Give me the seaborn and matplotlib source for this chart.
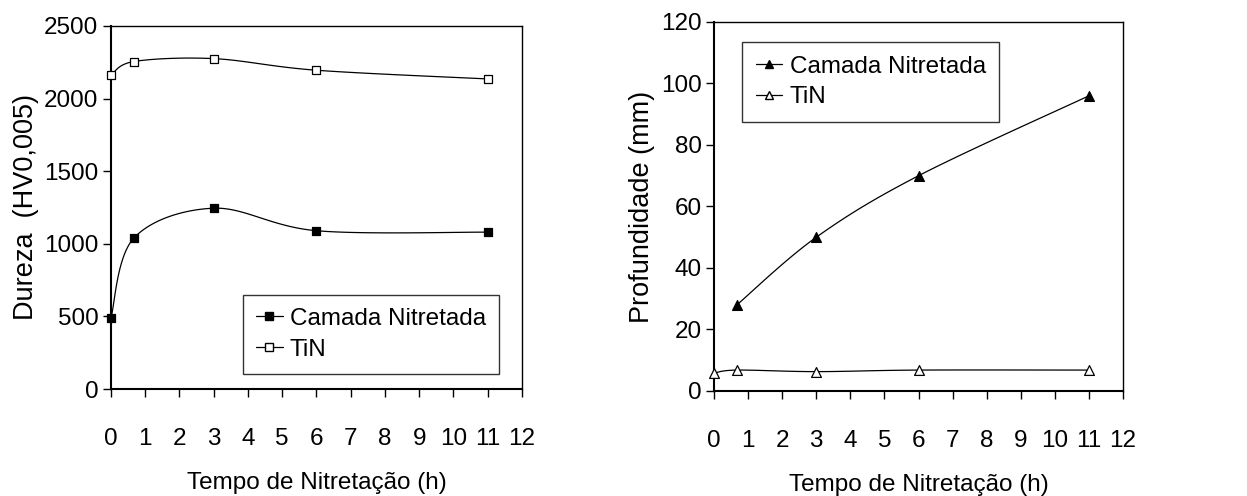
import numpy as np
import pandas as pd
import matplotlib
matplotlib.use("Agg")
import matplotlib.pyplot as plt
from matplotlib.lines import Line2D
import seaborn as sns

# ---- data ----
tempo_dur = [0, 0.67, 3, 6, 11]
dureza_camada = [490, 1040, 1245, 1090, 1080]
dureza_tin = [2160, 2255, 2275, 2195, 2135]

tempo_prof_camada = [0.67, 3, 6, 11]
prof_camada = [28, 50, 70, 96]
tempo_prof_tin = [0, 0.67, 3, 6, 11]
prof_tin = [5.8, 6.8, 6.3, 6.8, 6.8]

xticks = list(range(0, 13))
xlabel = "Tempo de Nitretação (h)"
ylabel_left = "Dureza  (HV0,005)"
ylabel_right = "Profundidade (mm)"
labels = ["Camada Nitretada", "TiN"]

sns.set_theme(style="white")
plt.rcParams["font.family"] = ["Liberation Sans", "DejaVu Sans"]
plt.rcParams["text.color"] = "black"
plt.rcParams["axes.labelcolor"] = "black"


def smooth(x, y, n=30):
    """Excel-like smoothed line (Catmull-Rom Bezier) through the points."""
    P = np.column_stack([x, y]).astype(float)
    pts = []
    m = len(P)
    for i in range(m - 1):
        p0 = P[max(i - 1, 0)]
        p1 = P[i]
        p2 = P[i + 1]
        p3 = P[min(i + 2, m - 1)]
        c1 = p1 + (p2 - p0) / 6.0
        c2 = p2 - (p3 - p1) / 6.0
        t = np.linspace(0, 1, n)[:, None]
        seg = ((1 - t) ** 3) * p1 + 3 * ((1 - t) ** 2) * t * c1 + 3 * (1 - t) * t ** 2 * c2 + t ** 3 * p2
        pts.append(seg if i == 0 else seg[1:])
    s = np.vstack(pts)
    return s[:, 0], s[:, 1]


fig = plt.figure(figsize=(12.47, 4.96), dpi=100)
ax1 = fig.add_axes([0.089, 0.2157, 0.3296, 0.732])
ax2 = fig.add_axes([0.5726, 0.2117, 0.328, 0.744])

FS = 17.5
FSY = 19.5


def style_axis(ax, ylim, yticks, ylabel):
    ax.set_xlim(0, 12)
    ax.set_ylim(*ylim)
    ax.set_xticks(xticks)
    ax.set_yticks(yticks)
    ax.tick_params(axis="x", direction="out", length=6, width=1, pad=22,
                   labelsize=FS, colors="black", bottom=True)
    ax.tick_params(axis="y", direction="out", length=6, width=1, pad=3,
                   labelsize=FS, colors="black", left=True)
    for sp in ax.spines.values():
        sp.set_visible(True)
        sp.set_color("black")
        sp.set_linewidth(1.0)
    ax.spines["left"].set_linewidth(1.5)
    ax.spines["bottom"].set_linewidth(1.5)
    ax.set_xlabel(xlabel, fontsize=FS, color="black", labelpad=16)
    ax.set_ylabel(ylabel, fontsize=FSY, color="black", labelpad=4)
    ax.grid(False)
    ax.set_facecolor("white")


def draw(ax, x, y, marker, fill, size):
    sx, sy = smooth(x, y)
    ax.plot(sx, sy, color="black", lw=0.9, zorder=2, clip_on=False)
    df = pd.DataFrame({"x": x, "y": y})
    sns.scatterplot(data=df, x="x", y="y", ax=ax, marker=marker, s=size,
                    color=fill, edgecolor="black", linewidth=0.9, zorder=3,
                    legend=False, clip_on=False)


draw(ax1, tempo_dur, dureza_camada, "s", "black", 38)
draw(ax1, tempo_dur, dureza_tin, "s", "white", 38)
style_axis(ax1, (0, 2500), [0, 500, 1000, 1500, 2000, 2500], ylabel_left)

draw(ax2, tempo_prof_camada, prof_camada, "^", "black", 50)
draw(ax2, tempo_prof_tin, prof_tin, "^", "white", 50)
style_axis(ax2, (0, 120), [0, 20, 40, 60, 80, 100, 120], ylabel_right)


def legend(ax, marker, anchor):
    handles = [
        Line2D([], [], color="black", lw=0.9, marker=marker, markersize=5.5,
               markerfacecolor="black", markeredgecolor="black"),
        Line2D([], [], color="black", lw=0.9, marker=marker, markersize=5.5,
               markerfacecolor="white", markeredgecolor="black"),
    ]
    leg = ax.legend(handles, labels, loc="upper left", bbox_to_anchor=anchor,
                    frameon=True, fancybox=False, fontsize=FS,
                    handlelength=1.1, handletextpad=0.3, borderpad=0.55,
                    labelspacing=0.35, borderaxespad=0)
    leg.get_frame().set_edgecolor("black")
    leg.get_frame().set_linewidth(1.0)
    leg.get_frame().set_facecolor("white")
    for t in leg.get_texts():
        t.set_color("black")


legend(ax1, "s", (0.32, 0.26))
legend(ax2, "^", (0.069, 0.945))

fig.savefig("out.png", dpi=100, facecolor="white")
